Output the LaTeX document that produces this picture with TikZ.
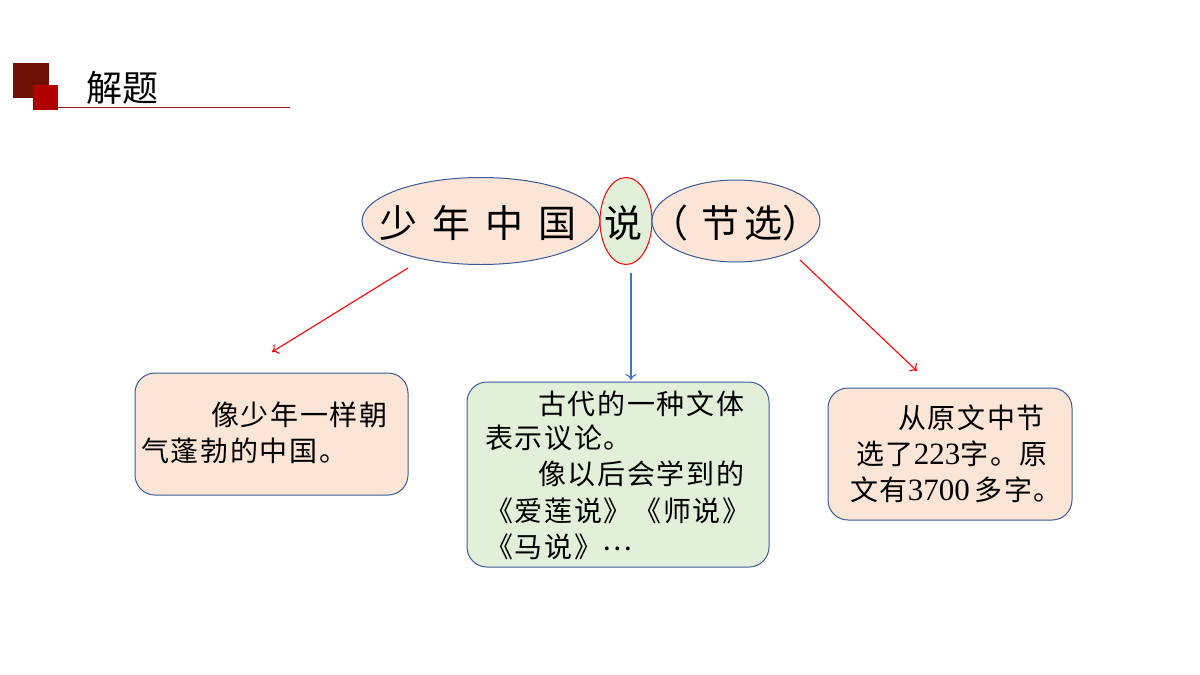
\documentclass[tikz,border=0pt]{standalone}
\usepackage{fontspec}
\usetikzlibrary{shapes.geometric,arrows.meta}
\newfontfamily\cjk{Noto Sans CJK SC}
\newfontfamily\cjkb{Noto Sans CJK SC}[LetterSpace=6]
\newfontfamily\dig{Liberation Serif}
\definecolor{peach}{HTML}{FBE5D6}
\definecolor{lgreen}{HTML}{E2F0D9}
\definecolor{bord}{HTML}{3A5A9A}
\definecolor{darkred}{HTML}{6E1005}
\definecolor{brightred}{HTML}{B00000}
\definecolor{linered}{HTML}{8B1A1A}
\definecolor{arrowblue}{HTML}{4472C4}
\tikzset{
  oval/.style={ellipse, draw=bord, line width=1pt, fill=peach, inner sep=0pt},
  gboval/.style={ellipse, draw=red, line width=1pt, fill=lgreen, inner sep=0pt},
  titletext/.style={font=\cjk\fontsize{38}{40}\selectfont, inner sep=0pt},
  card/.style={draw=bord, line width=1pt, rounded corners=20pt, inner sep=0pt},
  cardtext/.style={font=\cjkb\fontsize{28}{30}\selectfont, inner sep=0pt, anchor=west},
  redarrow/.style={draw=red, line width=1.1pt, -{To[length=6pt,width=11pt]}},
  bluearrow/.style={draw=arrowblue, line width=1.1pt, -{To[length=6pt,width=11pt]}}
}
\begin{document}
\begin{tikzpicture}[x=1pt,y=-1pt]
\useasboundingbox (0,0) rectangle (1200,675);
% header
\fill[darkred] (13,63) rectangle (49,98);
\fill[brightred] (33,85) rectangle (58,110);
\draw[linered, line width=1pt] (58,107) -- (290,107);
\node[font=\cjk\fontsize{36}{38}\selectfont, anchor=west, inner sep=0pt] (title) at (86,88) {解题};
% ellipses
\node[oval, minimum width=238pt, minimum height=87pt] (e1) at (481,221) {};
\node[gboval, minimum width=52pt, minimum height=87pt] (e2) at (626,221) {};
\node[oval, minimum width=168pt, minimum height=82pt] (e3) at (736,221) {};
\node[titletext] (t1) at (478,223) {少\hspace{15pt}年\hspace{15pt}中\hspace{15pt}国};
\node[titletext] (t2) at (623,223) {说};
\node[titletext, anchor=west] (t3) at (650,223) {（\hspace{13pt}节\hspace{5pt}选）};
% cards
\node[card, fill=peach, minimum width=273pt, minimum height=122pt] (b1) at (271.5,434) {};
\node[card, fill=lgreen, minimum width=302pt, minimum height=185pt] (b2) at (618,474.5) {};
\node[card, fill=peach, minimum width=244pt, minimum height=132pt] (b3) at (950,454) {};
% arrow anchors
\coordinate (a1s) at (408,268);
\coordinate (a1e) at (272,352);
\coordinate (a2s) at (631,273);
\coordinate (a2e) at (631,380);
\coordinate (a3s) at (800,260);
\coordinate (a3e) at (917,371);
\draw[redarrow] (a1s) -- (a1e);
\draw[bluearrow] (a2s) -- (a2e);
\draw[redarrow] (a3s) -- (a3e);
% card 1 text
\node[cardtext] (l11) at (211,415) {像少年一样朝};
\node[cardtext] (l12) at (141,451) {气蓬勃的中国。};
% card 2 text
\node[cardtext] (l21) at (538,404) {古代的一种文体};
\node[cardtext] (l22) at (485,438) {表示议论。};
\node[cardtext] (l23) at (538,474) {像以后会学到的};
\node[cardtext] (l24) at (485,511) {《爱莲说》《师说》};
\node[cardtext] (l25) at (485,547) {《马说》\raisebox{7pt}{…}\raisebox{4pt}{\textcolor{white!80!gray}{\fontsize{16}{18}\selectfont …}}};
% card 3 text
\node[cardtext] (l31) at (898,418) {从原文中节};
\node[cardtext] (l32) at (856,454) {选了{\dig\fontsize{31}{30}\selectfont 223}字。原};
\node[cardtext] (l33) at (850,490) {文有{\dig\fontsize{31}{30}\selectfont 3700}\,多字。};
\end{tikzpicture}
\end{document}
